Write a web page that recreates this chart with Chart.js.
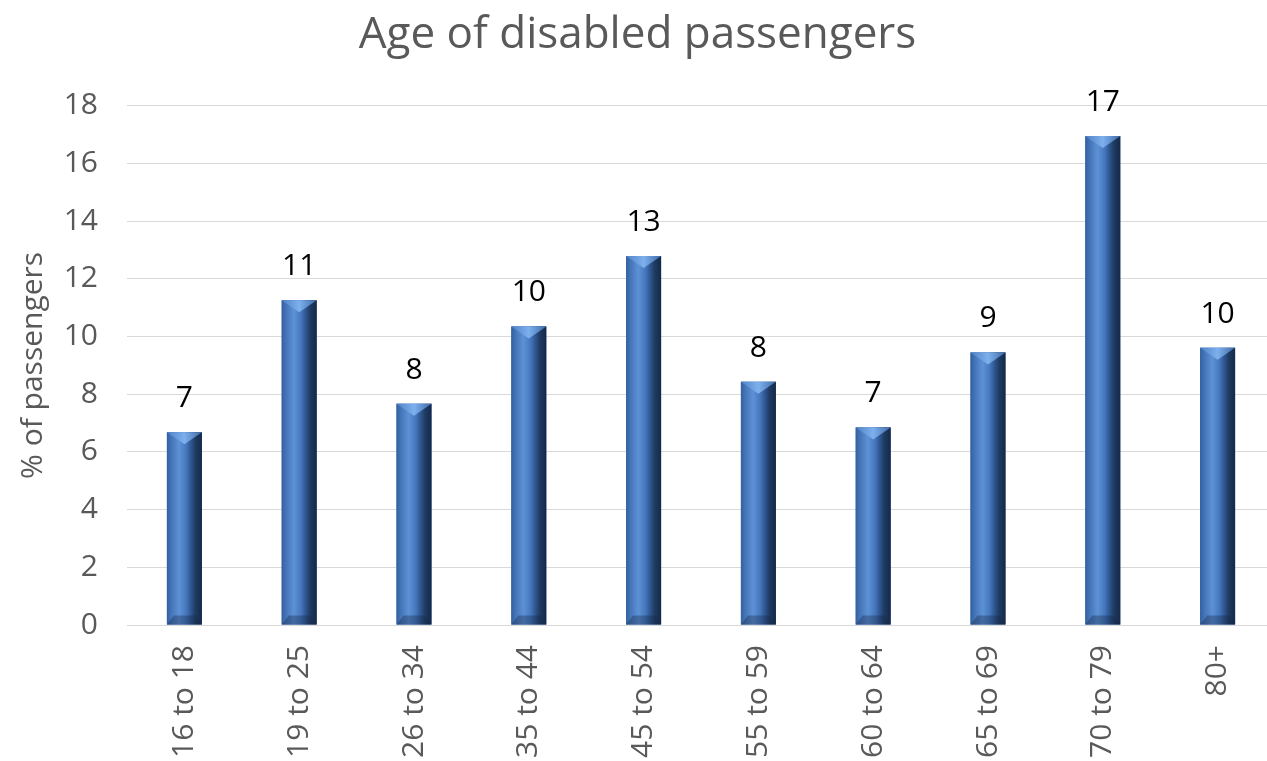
<!DOCTYPE html>
<html><head><meta charset="utf-8">
<script src="https://cdn.jsdelivr.net/npm/chart.js@4.4.0/dist/chart.umd.min.js"></script>
<style>
html,body{margin:0;padding:0;background:#fff;overflow:hidden;}
#wrap{position:relative;width:1275px;height:761px;}
</style></head><body>
<div id="wrap"><canvas id="c"></canvas></div>
<script>
// ---- data ----
const chartTitle = 'Age of disabled passengers';
const yAxisTitle = '% of passengers';
const categories = ['16 to 18','19 to 25','26 to 34','35 to 44','45 to 54','55 to 59','60 to 64','65 to 69','70 to 79','80+'];
const percentValues = [6.68, 11.26, 7.67, 10.35, 12.79, 8.43, 6.85, 9.45, 16.95, 9.61];
const valueLabels = ['7','11','8','10','13','8','7','9','17','10'];
const yMin = 0, yMax = 18, yStep = 2;

const FONT = '"Open Sans", "DejaVu Sans", sans-serif';
const GREY = '#595959';

const bevelPlugin = {
  id: 'bevelBars',
  afterDatasetsDraw(chart) {
    const ctx = chart.ctx;
    const meta = chart.getDatasetMeta(0);
    meta.data.forEach((el, i) => {
      const p = el.getProps(['x','y','base','width'], true);
      const left = p.x - p.width / 2, right = p.x + p.width / 2;
      const top = Math.min(p.y, p.base), bottom = Math.max(p.y, p.base);
      const w = right - left;
      ctx.save();
      const g = ctx.createLinearGradient(left, 0, right, 0);
      g.addColorStop(0, '#33609e');
      g.addColorStop(0.12, '#4474b7');
      g.addColorStop(0.35, '#5d91d6');
      g.addColorStop(0.55, '#4677bd');
      g.addColorStop(0.68, '#2f5893');
      g.addColorStop(0.82, '#1f3a60');
      g.addColorStop(1, '#15294a');
      ctx.fillStyle = g;
      ctx.fillRect(left, top, w, bottom - top);
      // top bevel (light V)
      const tg = ctx.createLinearGradient(left, 0, right, 0);
      tg.addColorStop(0, '#4f82c6');
      tg.addColorStop(0.5, '#7eb0ee');
      tg.addColorStop(1, '#3d6aa6');
      ctx.fillStyle = tg;
      ctx.beginPath();
      ctx.moveTo(left, top);
      ctx.lineTo(right, top);
      ctx.lineTo(p.x, top + Math.min(12, (bottom - top) / 3));
      ctx.closePath();
      ctx.fill();
      // bottom bevel (darker)
      ctx.fillStyle = 'rgba(20,38,66,0.35)';
      ctx.beginPath();
      ctx.moveTo(left, bottom);
      ctx.lineTo(right, bottom);
      ctx.lineTo(right - 7, bottom - 9);
      ctx.lineTo(left + 7, bottom - 9);
      ctx.closePath();
      ctx.fill();
      // value label
      ctx.fillStyle = '#000';
      ctx.font = '30px ' + FONT;
      ctx.textAlign = 'center';
      ctx.textBaseline = 'alphabetic';
      ctx.fillText(valueLabels[i], p.x, top - 25);
      ctx.restore();
    });
  }
};

new Chart(document.getElementById('c'), {
  type: 'bar',
  data: {
    labels: categories,
    datasets: [{
      data: percentValues,
      backgroundColor: '#3e6cab',
      borderWidth: 0,
      barPercentage: 0.305,
      categoryPercentage: 1
    }]
  },
  options: {
    responsive: true,
    maintainAspectRatio: false,
    animation: false,
    layout: { padding: 0 },
    plugins: {
      legend: { display: false },
      tooltip: { enabled: false },
      title: {
        display: true,
        text: chartTitle,
        color: GREY,
        font: { family: FONT, size: 44, weight: 'normal' },
        padding: { top: 9, bottom: 44 }
      }
    },
    scales: {
      x: {
        grid: { display: false, drawTicks: false },
        border: { display: false },
        ticks: {
          color: GREY,
          font: { family: FONT, size: 30 },
          minRotation: 90, maxRotation: 90,
          autoSkip: false,
          padding: 20
        },
        afterFit(scale) { scale.height = 136; }
      },
      y: {
        min: yMin, max: yMax,
        grid: { color: '#d9d9d9', lineWidth: 1, drawTicks: false },
        border: { display: false },
        ticks: {
          stepSize: yStep,
          color: GREY,
          font: { family: FONT, size: 30 },
          padding: 29
        },
        title: {
          display: true,
          text: yAxisTitle,
          color: GREY,
          font: { family: FONT, size: 30 },
          padding: { top: 15, bottom: 0 }
        },
        afterFit(scale) { scale.width = 127; }
      }
    }
  },
  plugins: [bevelPlugin]
});
</script>
</body></html>
